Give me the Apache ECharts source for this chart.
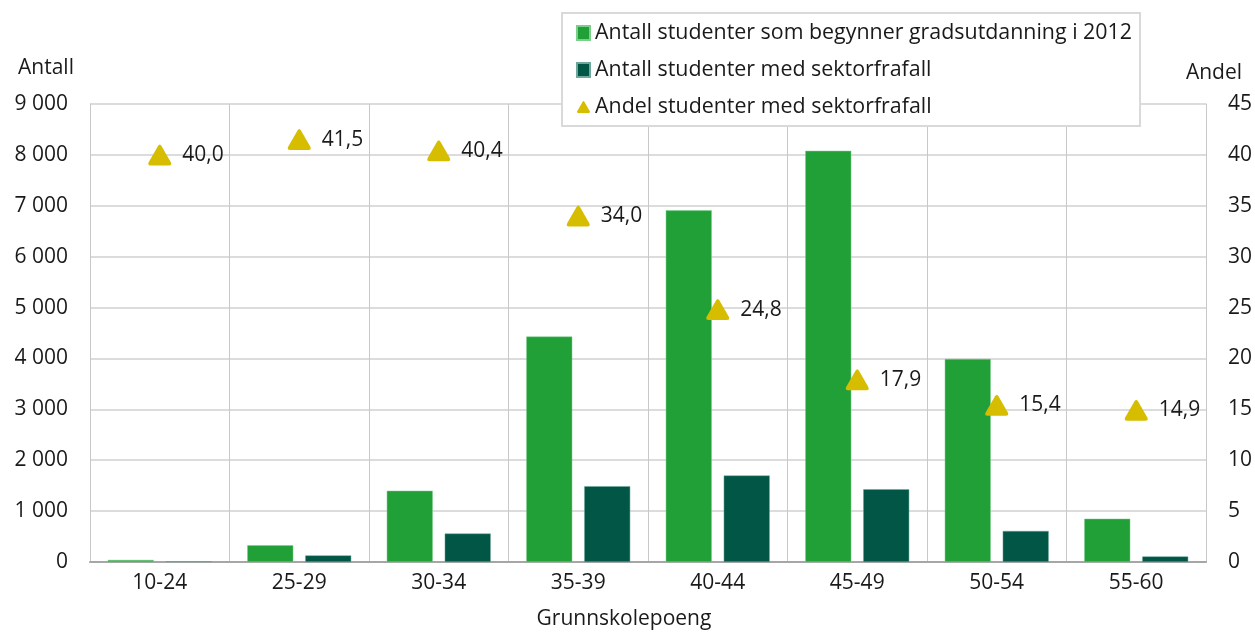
<!DOCTYPE html>
<html>
<head>
<meta charset="utf-8">
<script src="https://cdn.jsdelivr.net/npm/echarts@6/dist/echarts.min.js"></script>
<style>
  html, body { margin: 0; padding: 0; background: #fff; }
  #chart { width: 1255px; height: 635px; }
</style>
</head>
<body>
<div id="chart"></div>
<script>
const categories = ['10-24', '25-29', '30-34', '35-39', '40-44', '45-49', '50-54', '55-60']
const started = [40, 330, 1400, 4430, 6910, 8080, 3990, 850]
const dropouts = [15, 130, 560, 1490, 1700, 1430, 610, 110]
const share = [40.0, 41.5, 40.4, 34.0, 24.8, 17.9, 15.4, 14.9]

const seriesNames = [
  'Antall studenter som begynner gradsutdanning i 2012',
  'Antall studenter med sektorfrafall',
  'Andel studenter med sektorfrafall'
]

const font = '"Open Sans", "Noto Sans", sans-serif'
const textColor = '#1a1a1a'
const fs = 21
// avrundet trekant
const roundTriangle = 'path://M43,12 Q50,0 57,12 L94,76 Q101,90 86,90 L14,90 Q-1,90 6,76 Z'

const chart = echarts.init(document.getElementById('chart'))

chart.setOption({
  animation: false,
  textStyle: { fontFamily: font, color: textColor },
  grid: { left: 90, right: 49, top: 104, bottom: 72, containLabel: false },
  legend: {
    orient: 'vertical',
    left: 562, top: 13,
    padding: [8, 8, 7, 14],
    itemWidth: 13, itemHeight: 14, itemGap: 13,
    backgroundColor: '#fff',
    borderColor: '#d9d9d9', borderWidth: 2,
    textStyle: { fontFamily: font, fontSize: 21.4, color: textColor, lineHeight: 24 },
    data: [
      { name: seriesNames[0], icon: 'rect' },
      { name: seriesNames[1], icon: 'rect' },
      { name: seriesNames[2], icon: roundTriangle, itemStyle: { color: '#d6bd00' } }
    ]
  },
  xAxis: {
    type: 'category',
    data: categories,
    name: 'Grunnskolepoeng',
    nameLocation: 'middle',
    nameGap: 47,
    nameTextStyle: { fontSize: fs, color: textColor, padding: [0, 48, 0, 0] },
    axisLine: { lineStyle: { color: '#a6a6a6', width: 2 } },
    axisTick: { show: false },
    axisLabel: { fontSize: fs, color: textColor, margin: 11 },
    splitLine: { show: true, lineStyle: { color: '#c8c8c8', width: 1 } }
  },
  yAxis: [
    {
      type: 'value',
      min: 0, max: 9000, interval: 1000,
      name: 'Antall',
      nameGap: 25,
      nameTextStyle: { fontSize: fs, color: textColor, padding: [0, 88, 0, 0] },
      axisLine: { show: true, lineStyle: { color: '#c8c8c8', width: 1 } },
      axisTick: { show: false },
      axisLabel: {
        fontSize: fs, color: textColor, margin: 22,
        formatter: v => String(v).replace(/\B(?=(\d{3})+(?!\d))/g, ' ')
      },
      splitLine: { lineStyle: { color: '#dcdcdc', width: 2 } }
    },
    {
      type: 'value',
      min: 0, max: 45, interval: 5,
      name: 'Andel',
      nameGap: 20,
      nameTextStyle: { fontSize: fs, color: textColor, padding: [0, 0, 0, 16] },
      axisLine: { show: true, lineStyle: { color: '#c8c8c8', width: 1 } },
      axisTick: { show: false },
      axisLabel: { fontSize: fs, color: textColor, margin: 22 },
      splitLine: { show: false }
    }
  ],
  series: [
    {
      name: seriesNames[0],
      type: 'bar',
      data: started,
      barWidth: 46,
      barGap: '26%',
      itemStyle: { color: '#21a038', borderColor: '#7ccf8b', borderWidth: 0.5 }
    },
    {
      name: seriesNames[1],
      type: 'bar',
      data: dropouts,
      barWidth: 46,
      itemStyle: { color: '#025646', borderColor: '#6fa89a', borderWidth: 0.5 }
    },
    {
      name: seriesNames[2],
      type: 'line',
      yAxisIndex: 1,
      data: share,
      lineStyle: { width: 0 },
      symbol: roundTriangle,
      symbolSize: [23, 21],
      itemStyle: { color: '#d6bd00' },
      label: {
        show: true,
        position: 'right',
        distance: 11,
        fontSize: fs,
        color: textColor,
        fontFamily: font,
        formatter: p => p.value.toFixed(1).replace('.', ',')
      },
      z: 5
    }
  ]
})

window.addEventListener('resize', () => chart.resize())
</script>
</body>
</html>
